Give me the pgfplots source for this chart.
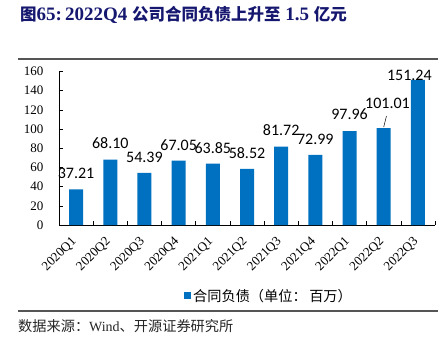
\documentclass[border=0pt]{standalone}
\usepackage{pgfplots}
\pgfplotsset{compat=1.18}
\usepackage{fontspec}
\setmainfont{Liberation Serif}
\newfontfamily\cjk{Noto Sans CJK SC}
\newfontfamily\lab{Carlito}
\definecolor{barblue}{RGB}{0,112,192}
\definecolor{navy}{RGB}{22,24,112}
\definecolor{sepgray}{RGB}{85,85,85}
\newcommand\tc[1]{{\cjk\fontsize{16.5}{18}\selectfont\bfseries #1}}
\newcommand\fc[1]{{\cjk\fontsize{14.2}{16}\selectfont #1}}
\begin{document}
\begin{tikzpicture}
\path[use as bounding box] (0pt,0pt) rectangle (444pt,-351pt);
\node[anchor=west, inner sep=0pt, text=navy, font=\fontsize{19}{21}\selectfont\bfseries] at (20pt,-15pt)
  {\tc{图}65:\hspace{3pt}2022Q4 \tc{公司合同负债上升至} 1.5 \tc{亿元}};
\draw[sepgray, line width=1.3pt] (18pt,-59pt) -- (438pt,-59pt);
\draw[sepgray, line width=1.3pt] (18pt,-311pt) -- (438pt,-311pt);
\node[anchor=west, inner sep=0pt, text=black!85, font=\fontsize{14}{16}\selectfont] at (18pt,-326pt)
  {\fc{数据来源：}Wind\fc{、开源证券研究所}};
\begin{axis}[
  at={(59pt,-225pt)}, anchor=south west,
  scale only axis, width=376pt, height=153.5pt,
  xmin=-0.5, xmax=10.5, ymin=0, ymax=160,
  ytick={0,20,...,160},
  axis x line=bottom, axis y line=left,
  axis line style={-, black, line width=0.6pt},
  tick align=inside, major tick length=4pt, minor tick length=4pt,
  tick style={black, line width=0.6pt},
  xtick={0,...,10},
  xticklabels={2020Q1,2020Q2,2020Q3,2020Q4,2021Q1,2021Q2,2021Q3,2021Q4,2022Q1,2022Q2,2022Q3},
  major x tick style={draw=none},
  minor xtick={0.5,1.5,...,10.5},
  xticklabel style={rotate=45, anchor=east, xshift=-8pt, yshift=-9pt, font=\fontsize{13}{15}\selectfont},
  yticklabel style={font=\fontsize{13}{15}\selectfont, xshift=-12pt},
  /pgf/number format/assume math mode=true,
  clip=false,
  legend style={at={(0.3324,-0.4625)}, anchor=west, draw=none, fill=none, inner sep=0pt},
  legend image code/.code={\fill[barblue] (0pt,-3.5pt) rectangle (7pt,3.5pt);},
]
\addplot[ybar, bar width=14pt, fill=barblue, draw=none] coordinates {
(0,37.21)(1,68.10)(2,54.39)(3,67.05)(4,63.85)(5,58.52)(6,81.72)(7,72.99)(8,97.96)(9,101.01)(10,151.24)};
\addlegendentry{\fc{合同负债（单位：\hspace{2.5pt}百万）}}
\addplot[draw=none, forget plot, nodes near coords, point meta=explicit symbolic,
  every node near coord/.style={anchor=center, inner sep=0pt, font=\lab\fontsize{16}{18}\selectfont}]
  table[meta=label] {
x y label
0 54.2 37.21
1 85.5 68.10
2 70.9 54.39
3 83.4 67.05
4 80.3 63.85
5 75.0 58.52
6 99.0 81.72
7 89.6 72.99
8 115.7 97.96
9.11 127.2 101.01
9.75 156.3 151.24
};
\addplot[black, line width=0.5pt, forget plot] coordinates {(9.08,113.6)(9.0,102.1)};
\end{axis}
\end{tikzpicture}
\end{document}
